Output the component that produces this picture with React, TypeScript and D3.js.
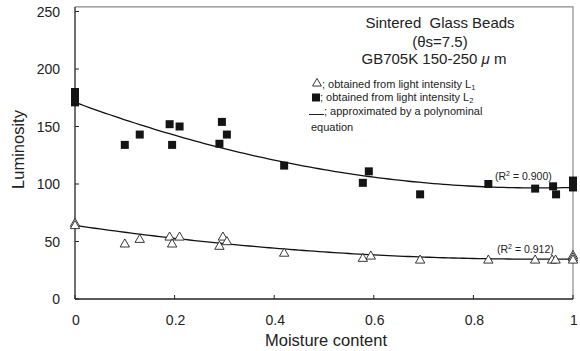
import { useEffect, useRef } from 'react';
import * as d3 from 'd3';

// L2 (filled squares)
const l2Moisture = [0, 0, 0, 0.1, 0.13, 0.19, 0.195, 0.21, 0.29, 0.295, 0.305, 0.42, 0.578, 0.59, 0.693, 0.83, 0.924, 0.96, 0.966, 1, 1];
const l2Lum = [180, 176, 171, 134, 143, 152, 134, 150, 135, 154, 143, 116, 101, 111, 91, 100, 96, 98, 91, 103, 97];

// L1 (open triangles)
const l1Moisture = [0, 0, 0.1, 0.13, 0.19, 0.195, 0.21, 0.29, 0.297, 0.305, 0.42, 0.578, 0.594, 0.693, 0.83, 0.924, 0.958, 0.965, 1, 1, 1];
const l1Lum = [66, 64, 48, 52, 54, 48, 54, 46, 54, 50, 40, 35.5, 37.5, 34, 34, 34, 34, 34, 38, 36, 34];

// polynomial fits, y = c0 + c1 x + c2 x^2
const fitL2 = [171, -160, 86];
const fitL1 = [64, -63, 33.8];

const xTicks = [0, 0.2, 0.4, 0.6, 0.8, 1];
const yTicks = [0, 50, 100, 150, 200, 250];

const W = 580;
const H = 351;
const FONT = 'Liberation Sans, Arial, sans-serif';

const App = () => {
  const svgRef = useRef<SVGSVGElement>(null);

  useEffect(() => {
    const svg = d3.select(svgRef.current);
    svg.selectAll('*').remove();

    const x = d3.scaleLinear().domain([0, 1]).range([75, 573]);
    const y = d3.scaleLinear().domain([0, 250]).range([299, 11.5]);

    const g = svg.append('g');

    // frame (top + right grey)
    g.append('path')
      .attr('d', `M${x(0)},${y(254)}H${x(1)}V${y(0)}`)
      .attr('fill', 'none')
      .attr('stroke', '#8a8a8a')
      .attr('stroke-width', 1.2);

    // axes
    g.append('line')
      .attr('x1', x(0)).attr('x2', x(0))
      .attr('y1', y(254)).attr('y2', y(0))
      .attr('stroke', '#222').attr('stroke-width', 1.3);
    g.append('line')
      .attr('x1', x(0)).attr('x2', x(1))
      .attr('y1', y(0)).attr('y2', y(0))
      .attr('stroke', '#222').attr('stroke-width', 1.3);

    // y ticks (inside)
    yTicks.forEach(t => {
      g.append('line')
        .attr('x1', x(0)).attr('x2', x(0) + 4)
        .attr('y1', y(t)).attr('y2', y(t))
        .attr('stroke', '#222');
      g.append('text')
        .attr('x', 60).attr('y', y(t) + 5)
        .attr('text-anchor', 'end')
        .attr('font-family', FONT).attr('font-size', 14)
        .attr('fill', '#222')
        .text(t);
    });

    // x ticks (inside)
    xTicks.forEach(t => {
      g.append('line')
        .attr('x1', x(t)).attr('x2', x(t))
        .attr('y1', y(0)).attr('y2', y(0) - 4)
        .attr('stroke', '#222');
      g.append('text')
        .attr('x', x(t) + 1).attr('y', 325)
        .attr('text-anchor', 'middle')
        .attr('font-family', FONT).attr('font-size', 14)
        .attr('fill', '#222')
        .text(t);
    });

    // axis titles
    g.append('text')
      .attr('transform', `translate(24,${y(130)}) rotate(-90)`)
      .attr('text-anchor', 'middle')
      .attr('font-family', FONT).attr('font-size', 16.5)
      .attr('fill', '#222')
      .text('Luminosity');
    g.append('text')
      .attr('x', 326).attr('y', 346)
      .attr('text-anchor', 'middle')
      .attr('font-family', FONT).attr('font-size', 16.5)
      .attr('fill', '#222')
      .text('Moisture content');

    // fit curves
    const poly = (c: number[]) => (m: number) => c[0] + c[1] * m + c[2] * m * m;
    const line = d3.line<number>().x(m => x(m));
    const grid = d3.range(0, 1.0001, 0.01);
    [fitL2, fitL1].forEach(c => {
      const f = poly(c);
      g.append('path')
        .attr('d', line.y(m => y(f(m)))(grid))
        .attr('fill', 'none')
        .attr('stroke', '#111')
        .attr('stroke-width', 1.3);
    });

    // squares
    const s = 8;
    g.selectAll('rect.l2')
      .data(l2Moisture)
      .enter()
      .append('rect')
      .attr('x', d => x(d) - s / 2)
      .attr('y', (d, i) => y(l2Lum[i]) - s / 2)
      .attr('width', s).attr('height', s)
      .attr('fill', '#141414');

    // triangles
    const tri = d3.symbol().type(d3.symbolTriangle).size(38);
    g.selectAll('path.l1')
      .data(l1Moisture)
      .enter()
      .append('path')
      .attr('d', tri)
      .attr('transform', (d, i) => `translate(${x(d)},${y(l1Lum[i]) + 0.5})`)
      .attr('fill', 'white')
      .attr('stroke', '#222')
      .attr('stroke-width', 0.9);

    // titles
    const title = ['Sintered  Glass Beads', '(θs=7.5)'];
    title.forEach((t, i) => {
      g.append('text')
        .attr('x', 440).attr('y', 27.5 + i * 19)
        .attr('text-anchor', 'middle')
        .attr('font-family', FONT).attr('font-size', 15)
        .attr('fill', '#222')
        .style('white-space', 'pre')
        .text(t);
    });
    const t3 = g.append('text')
      .attr('x', 434).attr('y', 64)
      .attr('text-anchor', 'middle')
      .attr('font-family', FONT).attr('font-size', 15)
      .attr('fill', '#222')
      .style('white-space', 'pre');
    t3.append('tspan').text('GB705K 150-250 ');
    t3.append('tspan').attr('font-style', 'italic').text('μ');
    t3.append('tspan').text(' m');

    // legend
    const lf = 11;
    g.append('path')
      .attr('d', d3.symbol().type(d3.symbolTriangle).size(34)())
      .attr('transform', 'translate(317,83.5)')
      .attr('fill', 'white').attr('stroke', '#222').attr('stroke-width', 0.9);
    const l1 = g.append('text')
      .attr('x', 322).attr('y', 87.5)
      .attr('font-family', FONT).attr('font-size', lf).attr('fill', '#222');
    l1.append('tspan').text('; obtained from light intensity L');
    l1.append('tspan').attr('font-size', 7.5).attr('dy', 2).text('1');

    g.append('rect')
      .attr('x', 312).attr('y', 93.5).attr('width', 8).attr('height', 8)
      .attr('fill', '#141414');
    const l2 = g.append('text')
      .attr('x', 320).attr('y', 101)
      .attr('font-family', FONT).attr('font-size', lf).attr('fill', '#222');
    l2.append('tspan').text('; obtained from light intensity L');
    l2.append('tspan').attr('font-size', 7.5).attr('dy', 2).text('2');

    g.append('line')
      .attr('x1', 309).attr('x2', 324).attr('y1', 114.5).attr('y2', 114.5)
      .attr('stroke', '#222').attr('stroke-width', 1);
    g.append('text')
      .attr('x', 324).attr('y', 114.5)
      .attr('font-family', FONT).attr('font-size', lf).attr('fill', '#222')
      .text('; approximated by a polynominal');
    g.append('text')
      .attr('x', 311).attr('y', 131)
      .attr('font-family', FONT).attr('font-size', lf).attr('fill', '#222')
      .text('equation');

    // R² labels
    const r2 = [['0.900', 180, 495], ['0.912', 253, 497]] as const;
    r2.forEach(([v, yy, xx]) => {
      const t = g.append('text')
        .attr('x', xx).attr('y', yy)
        .attr('font-family', FONT).attr('font-size', 10.5).attr('fill', '#222');
      t.append('tspan').text('(R');
      t.append('tspan').attr('font-size', 7).attr('dy', -4).text('2');
      t.append('tspan').attr('dy', 4).text(` = ${v})`);
    });
  }, []);

  return (
    <svg
      ref={svgRef}
      width={W}
      height={H}
      style={{ position: 'absolute', left: 0, top: 0, background: 'white' }}
    />
  );
};

export default App;
